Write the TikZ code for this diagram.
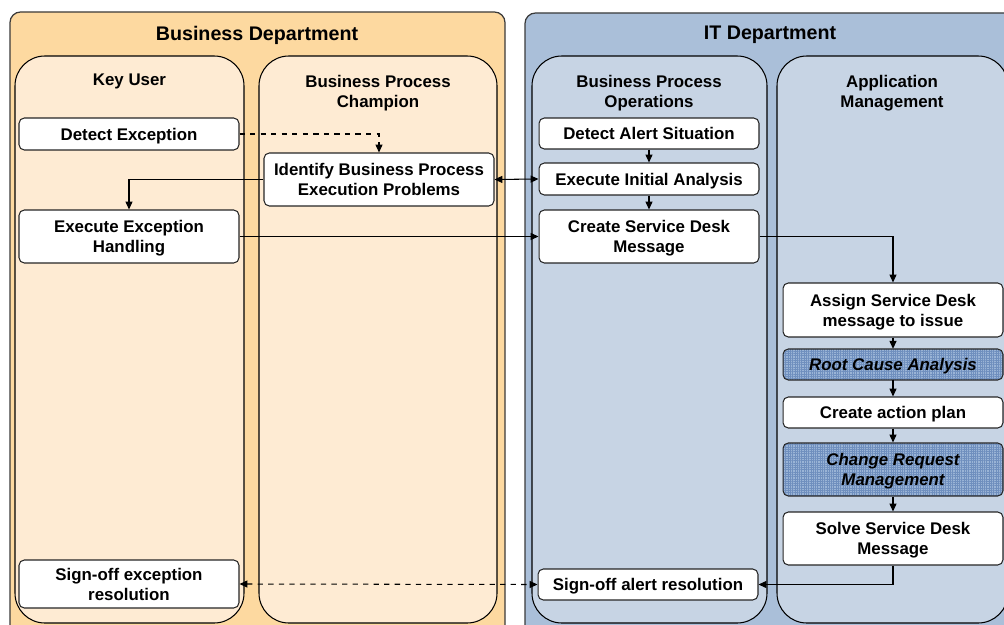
\documentclass[tikz,border=0pt]{standalone}
\usepackage{fontspec}
\setmainfont{Liberation Sans}
\usetikzlibrary{arrows.meta,patterns.meta}

\definecolor{bizdept}{HTML}{FDD9A0}
\definecolor{bizlane}{HTML}{FEEBD3}
\definecolor{itdept}{HTML}{AABFD9}
\definecolor{itlane}{HTML}{C7D4E4}
\definecolor{hatchfill}{HTML}{9AB4D6}
\definecolor{hatchline}{HTML}{6F8FBE}
\definecolor{frame}{HTML}{3A3A3A}

\begin{document}
\begin{tikzpicture}[
    x=0.02cm, y=-0.02cm,
    font=\fontsize{9.6}{11.4}\selectfont\bfseries,
    dept/.style={draw=frame, line width=0.7pt, rounded corners=6pt},
    lane/.style={draw=black, line width=0.6pt, rounded corners=17pt},
    title/.style={align=center, text depth=0pt},
    head/.style={title, font=\fontsize{11.2}{13}\selectfont\bfseries},
    task/.style={
        draw=black!85,
        fill=white,
        rounded corners=3pt,
        align=center,
        text depth=0pt,
        minimum width=4.4cm,
        inner sep=2pt,
        line width=0.6pt
    },
    subtask/.style={
        task,
        preaction={fill=hatchfill},
        pattern={Hatch[angle=0,distance=1.3pt,line width=0.25pt]},
        pattern color=hatchline,
        font=\fontsize{9.6}{11.4}\selectfont\bfseries\itshape
    },
    flow/.style={-{Triangle[length=4.5pt,width=4pt]}, line width=0.6pt},
    bothflow/.style={{Triangle[length=4.5pt,width=4pt]}-{Triangle[length=4.5pt,width=4pt]}, line width=0.6pt}
]

\useasboundingbox (0,0) rectangle (1004,625);
\clip (0,0) rectangle (1004,625);

% Departments
\path[dept, fill=bizdept] (10,12) rectangle (505,650);
\path[dept, fill=itdept] (525,13) rectangle (1040,650);

\node[head] (bizhead) at (257,33) {Business Department};
\node[head] (ithead) at (770,33) {IT Department};

% Lanes
\path[lane, fill=bizlane] (15,56) rectangle (244,623);
\path[lane, fill=bizlane] (259,56) rectangle (497,623);
\path[lane, fill=itlane] (532,56) rectangle (767,623);
\path[lane, fill=itlane] (777,56) rectangle (1008,623);

\node[title] (keyuser) at (129.5,80) {Key User};
\node[title] (champion) at (378,91) {Business Process\\Champion};
\node[title] (operations) at (649,91) {Business Process\\Operations};
\node[title] (appmgmt) at (892,91) {Application\\Management};

% Business department tasks
\node[task, minimum height=0.64cm] (detect) at (129,134) {Detect Exception};
\node[task, minimum width=4.6cm, minimum height=1.06cm] (identify) at (379,179.5) {Identify Business Process\\Execution Problems};
\node[task, minimum height=1.06cm] (handling) at (129,236.5) {Execute Exception\\Handling};
\node[task, minimum height=0.96cm] (signoff) at (129,584) {Sign-off exception\\resolution};

% IT department tasks
\node[task, minimum height=0.62cm] (alert) at (649,133.5) {Detect Alert Situation};
\node[task, minimum height=0.64cm] (initial) at (649,179) {Execute Initial Analysis};
\node[task, minimum height=1.06cm] (createsd) at (649,236.5) {Create Service Desk\\Message};
\node[task, minimum height=0.62cm] (alertsign) at (648,584.5) {Sign-off alert resolution};

\node[task, minimum height=1.08cm] (assign) at (893,310) {Assign Service Desk\\message to issue};
\node[subtask, minimum height=0.62cm] (rootcause) at (893,364.5) {Root Cause Analysis};
\node[task, minimum height=0.62cm] (actionplan) at (893,412.5) {Create action plan};
\node[subtask, minimum height=1.06cm] (changereq) at (893,469.5) {Change Request\\Management};
\node[task, minimum height=1.06cm] (solve) at (893,538.5) {Solve Service Desk\\Message};

% Connectors
\draw[flow, dashed] (detect.east) -| (identify.north);
\draw[flow] (identify.west) -| (handling.north);
\draw[bothflow] (identify.east) -- (initial.west);
\draw[flow] (handling.east) -- (createsd.west);
\draw[flow] (alert) -- (initial);
\draw[flow] (initial) -- (createsd);
\draw[flow] (createsd.east) -| (assign.north);
\draw[flow] (assign) -- (rootcause);
\draw[flow] (rootcause) -- (actionplan);
\draw[flow] (actionplan) -- (changereq);
\draw[flow] (changereq) -- (solve);
\draw[flow] (solve.south) |- (alertsign.east);
\draw[bothflow, dashed] (signoff.east) -- (alertsign.west);

\end{tikzpicture}
\end{document}
